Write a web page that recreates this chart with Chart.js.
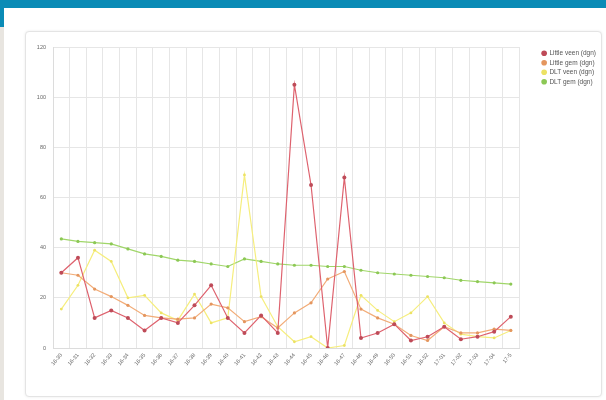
<!DOCTYPE html>
<html>
<head>
<meta charset="utf-8">
<script src="https://cdn.jsdelivr.net/npm/chart.js@4/dist/chart.umd.min.js"></script>
<style>
    body { margin: 0; background: #fff; width: 606px; height: 400px; overflow: hidden; position: relative; }
    #topbar { position: absolute; left: 0; top: 0; width: 606px; height: 8px; background: #0a8bb6; }
    #sidebar { position: absolute; left: 0; top: 8px; width: 4px; height: 19px; background: #0a8bb6; }
    #sidegray { position: absolute; left: 0; top: 27px; width: 4px; height: 373px; background: #e8e5e0; }
    #card {
        position: absolute; left: 25px; top: 31px; width: 575px; height: 364px;
        border: 1px solid #e4e4e4; border-radius: 4px; background: #fff;
        box-shadow: 0 0 3px rgba(0, 0, 0, 0.08);
    }
    #card canvas { display: block; }
</style>
</head>
<body>
<div id="topbar"></div>
<div id="sidebar"></div>
<div id="sidegray"></div>
<div id="card"><canvas id="myChart" width="575" height="364"></canvas></div>

<script>
// week labels
const weeks = ['16-30', '16-31', '16-32', '16-33', '16-34', '16-35', '16-36', '16-37', '16-38', '16-39',
    '16-40', '16-41', '16-42', '16-43', '16-44', '16-45', '16-46', '16-47', '16-48', '16-49',
    '16-50', '16-51', '16-52', '17-01', '17-02', '17-03', '17-04', '17-5'];

const seriesNames = ['Little veen (dgn)', 'Little gem (dgn)', 'DLT veen (dgn)', 'DLT gem (dgn)'];

const littleVeen = [30, 36, 12, 15, 12, 7, 12, 10, 17, 25, 12, 6, 13, 6, 105, 65, 0, 68, 4, 6, 9.5, 3, 4.5, 8.5, 3.5, 4.5, 6.5, 12.5];
const littleGem = [30, 29, 23.5, 20.5, 17, 13, 12, 11.5, 12, 17.5, 16, 10.5, 12.5, 8, 14, 18, 27.5, 30.5, 15.5, 12, 9.5, 5, 3, 8.5, 6, 6, 7.5, 7];
const dltVeen = [15.5, 25, 39, 34.5, 20, 21, 14, 11, 21.5, 10, 12, 69, 20.5, 8.5, 2.5, 4.5, 0, 1, 21, 15, 10.5, 14, 20.5, 10, 5.5, 4.5, 4, 7];
const dltGem = [43.5, 42.5, 42, 41.5, 39.5, 37.5, 36.5, 35, 34.5, 33.5, 32.5, 35.5, 34.5, 33.5, 33, 33, 32.5, 32.5, 31, 30, 29.5, 29, 28.5, 28, 27, 26.5, 26, 25.5];

const yTicks = { min: 0, max: 120, step: 20 };

const lineColors = ['rgb(222, 98, 110)', 'rgb(242, 172, 120)', 'rgb(246, 238, 125)', 'rgb(160, 214, 105)'];
const pointColors = ['rgb(190, 75, 88)', 'rgb(228, 150, 95)', 'rgb(236, 226, 100)', 'rgb(140, 200, 85)'];

function makeSet(i, values, radius) {
    return {
        label: seriesNames[i],
        data: values,
        borderColor: lineColors[i],
        backgroundColor: lineColors[i],
        pointBackgroundColor: pointColors[i],
        pointBorderColor: pointColors[i],
        borderWidth: 1.2,
        pointRadius: radius,
        pointBorderWidth: 0,
        tension: 0
    };
}

// move the legend a bit away from the plot
const legendGap = {
    id: 'legendGap',
    afterLayout(chart) {
        chart.legend.left += 20;
        chart.legend.right += 20;
    }
};

const ctx = document.getElementById('myChart').getContext('2d');
const myChart = new Chart(ctx, {
    type: 'line',
    data: {
        labels: weeks,
        datasets: [
            makeSet(0, littleVeen, 2),
            makeSet(1, littleGem, 1.6),
            makeSet(2, dltVeen, 1.4),
            makeSet(3, dltGem, 1.6)
        ]
    },
    options: {
        responsive: false,
        animation: false,
        devicePixelRatio: 1,
        layout: { padding: { top: 15, left: 6, bottom: 22, right: 15 } },
        plugins: {
            legend: {
                position: 'right',
                align: 'start',
                labels: {
                    usePointStyle: true,
                    pointStyle: 'circle',
                    boxWidth: 4,
                    boxHeight: 4,
                    padding: 3,
                    color: '#555',
                    font: { family: 'Liberation Sans', size: 6.5 }
                }
            },
            tooltip: { enabled: false }
        },
        scales: {
            x: {
                offset: true,
                grid: { offset: true, color: '#e6e6e6', lineWidth: 1, drawTicks: false },
                border: { color: '#dcdcdc' },
                ticks: {
                    autoSkip: false,
                    minRotation: 50,
                    maxRotation: 50,
                    padding: 4,
                    color: '#666',
                    font: { family: 'Liberation Sans', size: 5.5 }
                },
                afterFit: function (scale) { scale.height = 26; }
            },
            y: {
                min: yTicks.min,
                max: yTicks.max,
                grid: { color: '#e6e6e6', lineWidth: 1, drawTicks: false },
                border: { color: '#dcdcdc' },
                ticks: {
                    stepSize: yTicks.step,
                    padding: 7,
                    color: '#666',
                    font: { family: 'Liberation Sans', size: 5.5 }
                },
                afterFit: function (scale) { scale.width = 21; }
            }
        }
    },
    plugins: [legendGap]
});
</script>
</body>
</html>
